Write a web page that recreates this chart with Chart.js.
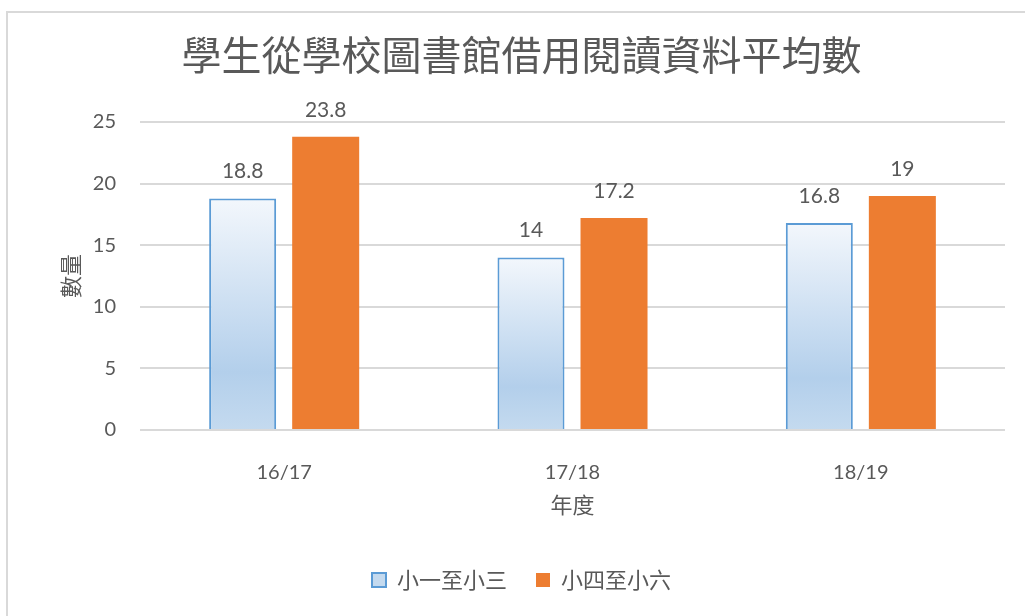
<!DOCTYPE html>
<html>
<head>
<meta charset="utf-8">
<script src="https://cdn.jsdelivr.net/npm/chart.js@4"></script>
<style>
  html, body { margin: 0; padding: 0; background: #fff; overflow: hidden; }
  #frame { position: absolute; left: 6px; top: 11px; width: 1040px; height: 640px; border: 2px solid #d9d9d9; box-sizing: border-box; }
  #wrap { position: absolute; left: 0; top: 0; width: 1025px; height: 616px; }
</style>
</head>
<body>
<div id="frame"></div>
<div id="wrap"><canvas id="c"></canvas></div>
<script>
const years = ['16/17', '17/18', '18/19'];
const seriesNames = ['小一至小三', '小四至小六'];
const lowerValues = [18.8, 14, 16.8];
const upperValues = [23.8, 17.2, 19];
const yMax = 25;
const yStep = 5;

const grey = '#595959';
const cjk = '"Noto Sans CJK TC", "Noto Sans CJK SC", sans-serif';
const num = 'Lato, "Noto Sans", sans-serif';

// light gradient fill for the lower-grade bars, like the Excel preset
function blueFill(ctx) {
  const chart = ctx.chart;
  if (ctx.type !== 'data' || !chart.chartArea) return '#d5e5f5';
  const y = chart.scales.y;
  const top = y.getPixelForValue(ctx.raw);
  const bottom = y.getPixelForValue(0);
  const g = chart.ctx.createLinearGradient(0, top, 0, bottom);
  g.addColorStop(0, '#f3f7fc');
  g.addColorStop(0.75, '#b3cfeb');
  g.addColorStop(1, '#c4daef');
  return g;
}

const barLabels = {
  id: 'barLabels',
  afterDatasetsDraw(chart) {
    const { ctx } = chart;
    ctx.save();
    ctx.font = '21px ' + num;
    ctx.fillStyle = grey;
    ctx.textAlign = 'center';
    ctx.textBaseline = 'middle';
    chart.data.datasets.forEach((ds, i) => {
      chart.getDatasetMeta(i).data.forEach((bar, j) => {
        ctx.fillText(String(ds.data[j]), bar.x, bar.y - 27);
      });
    });
    ctx.restore();
  }
};

new Chart(document.getElementById('c'), {
  type: 'bar',
  data: {
    labels: years,
    datasets: [
      { label: seriesNames[0], data: lowerValues, backgroundColor: blueFill, borderColor: '#5b9bd5', borderWidth: 2 },
      { label: seriesNames[1], data: upperValues, backgroundColor: '#ed7d31', borderWidth: 0 }
    ]
  },
  options: {
    responsive: true,
    maintainAspectRatio: false,
    animation: false,
    categoryPercentage: 0.576,
    barPercentage: 0.807,
    layout: { padding: { left: 38, right: 20, top: 0, bottom: 15 } },
    plugins: {
      title: {
        display: true,
        text: '學生從學校圖書館借用閱讀資料平均數',
        color: grey,
        font: { family: cjk, size: 40, weight: 'normal' },
        padding: { top: 31, bottom: 43 }
      },
      legend: {
        position: 'bottom',
        labels: {
          boxWidth: 14, boxHeight: 14, padding: 29,
          color: grey,
          font: { family: cjk, size: 22 }
        }
      },
      tooltip: { enabled: false }
    },
    scales: {
      x: {
        grid: { display: false },
        border: { display: false },
        ticks: { color: grey, padding: 23, font: { family: num, size: 20 } },
        title: { display: true, text: '年度', color: grey, font: { family: cjk, size: 22 }, padding: { top: 0, bottom: 22 } },
        afterFit: (s) => { s.height = 110; }
      },
      y: {
        min: 0, max: yMax,
        grid: { color: '#d9d9d9', lineWidth: 2, drawTicks: false },
        border: { display: false },
        ticks: { stepSize: yStep, color: grey, padding: 24, font: { family: num, size: 20 } },
        title: { display: true, text: '數量', color: grey, font: { family: cjk, size: 22 }, padding: { top: 19, bottom: 0 } },
        afterFit: (s) => { s.width = 102; }
      }
    }
  },
  plugins: [barLabels]
});
</script>
</body>
</html>
